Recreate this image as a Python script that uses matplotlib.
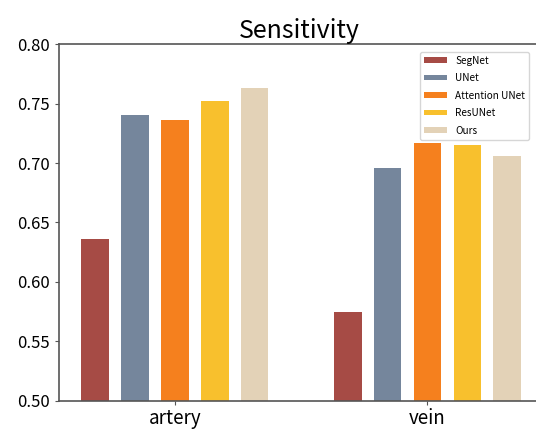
import numpy as np
import matplotlib
matplotlib.use("Agg")
from matplotlib import pyplot as plt

plt.rcParams['font.family'] = ['Noto Sans CJK SC', 'DejaVu Sans']

categories = ["artery", "vein"]
methods = ["SegNet", "UNet", "Attention UNet", "ResUNet", "Ours"]
sensitivity = {
    "SegNet": [0.636, 0.575],
    "UNet": [0.740, 0.696],
    "Attention UNet": [0.736, 0.717],
    "ResUNet": [0.752, 0.715],
    "Ours": [0.763, 0.706],
}
colors = ["#A64B45", "#75869C", "#F5801E", "#F8C02D", "#E3D2B7"]
yticks = [0.50, 0.55, 0.60, 0.65, 0.70, 0.75, 0.80]


def main():
    fig = plt.figure(figsize=(5.36, 4.32), dpi=100)
    ax = fig.add_axes([0.110, 0.072, 0.895, 0.826])

    x = np.arange(len(categories))
    step = 0.158
    width = 0.11
    for i, m in enumerate(methods):
        ax.bar(x + (i - 2) * step, sensitivity[m], width, color=colors[i], label=m)

    ax.set_xlim(-0.458, 1.44)
    ax.set_ylim(0.50, 0.80)
    ax.set_yticks(yticks)
    ax.set_yticklabels(["%.2f" % t for t in yticks])
    ax.set_xticks(x)
    ax.set_xticklabels(categories)
    ax.tick_params(axis='y', labelsize=12, length=3, color='#555555')
    ax.tick_params(axis='x', labelsize=13.5, length=3, color='#555555', pad=2)
    ax.spines['right'].set_visible(False)
    for s in ['left', 'top', 'bottom']:
        ax.spines[s].set_color('#555555')
        ax.spines[s].set_linewidth(1.2)

    ax.set_title("Sensitivity", fontsize=18, pad=3)

    ax.legend(loc='upper right', bbox_to_anchor=(0.996, 0.892),
              bbox_transform=fig.transFigure, fontsize=7.2,
              handlelength=2.3, handleheight=0.5, labelspacing=0.75,
              frameon=True, fancybox=True, edgecolor='#cccccc')

    fig.savefig("out.png", dpi=100)


if __name__ == '__main__':
    main()
